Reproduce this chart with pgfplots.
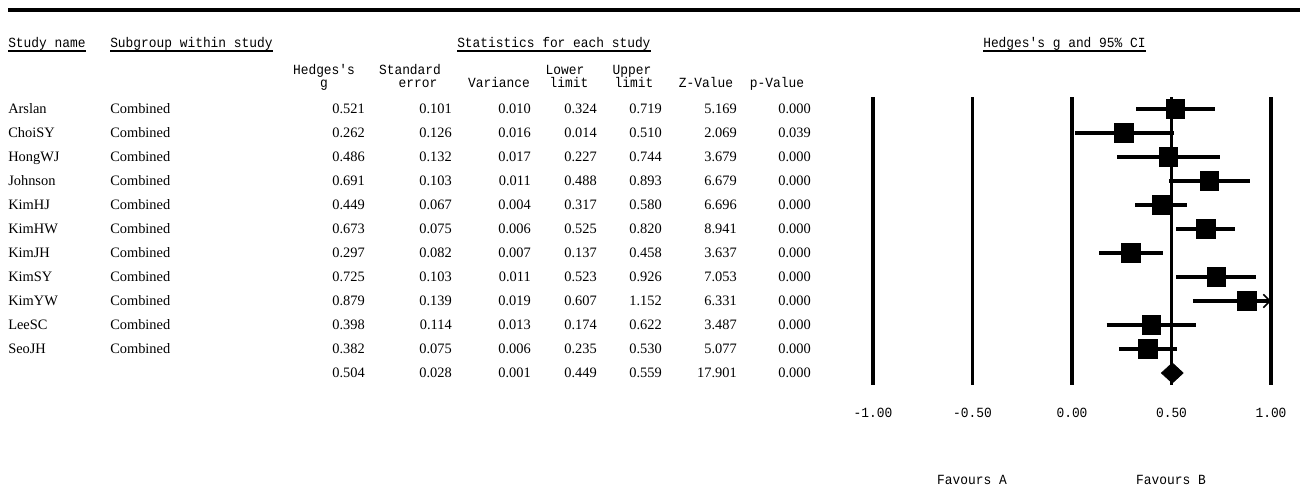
\documentclass[border=0pt]{standalone}
\usepackage{pgfplots}
\pgfplotsset{compat=1.18}
\usepackage{pgfplotstable}
\usetikzlibrary{arrows.meta}
\usepackage{fontspec}
\setmainfont{Liberation Serif}
\newfontfamily\monofam[FakeStretch=0.92]{Liberation Mono}
\newcommand{\serfont}{\fontsize{10.8}{12}\selectfont}
\newcommand{\monof}{\monofam\fontsize{10.5}{12}\selectfont}

\pgfplotstableread{
row g lo hi
1 0.521 0.324 0.719
2 0.262 0.014 0.510
3 0.486 0.227 0.744
4 0.691 0.488 0.893
5 0.449 0.317 0.580
6 0.673 0.525 0.820
7 0.297 0.137 0.458
8 0.725 0.523 0.926
9 0.879 0.607 1.152
10 0.398 0.174 0.622
11 0.382 0.235 0.530
}\studies

% whisker end points (upper limit of KimYW truncated at the axis end, 1.00)
\pgfplotstableread{
x y
0.324 1
0.719 1
nan nan
0.014 2
0.510 2
nan nan
0.227 3
0.744 3
nan nan
0.488 4
0.893 4
nan nan
0.317 5
0.580 5
nan nan
0.525 6
0.820 6
nan nan
0.137 7
0.458 7
nan nan
0.523 8
0.926 8
nan nan
0.607 9
1.000 9
nan nan
0.174 10
0.622 10
nan nan
0.235 11
0.530 11
}\whiskers

\begin{document}
\begin{tikzpicture}
\begin{scope}[x=0.75pt,y=-0.75pt]
\useasboundingbox (0,0) rectangle (1300,489);
% top rule
\draw[line width=3pt] (8,10) -- (1300,10);
% group headers
\foreach \t/\xx in {Study name/8, Subgroup within study/110, Statistics for each study/457, {Hedges's g and 95\% CI}/983}{
  \node[anchor=base west, inner sep=0pt, font=\monof] (h) at (\xx,47.5) {\t};
  \draw[line width=0.9pt] (h.west |- 0,51) -- (h.east |- 0,51);
}
% column headers
\foreach \t/\xx/\yy in {Hedges's/324/74.5, g/324/87.5, Standard/410/74.5, error/418/87.5, Variance/499/87.5, Lower/565/74.5, limit/569/87.5, Upper/632/74.5, limit/634/87.5, Z-Value/706/87.5, p-Value/777/87.5}{
  \node[anchor=base, inner sep=0pt, font=\monof] at (\xx,\yy) {\t};
}
% rows
\foreach \n/\a/\b/\c/\d/\e/\f/\g [count=\i] in {
 Arslan/0.521/0.101/0.010/0.324/0.719/5.169/0.000,
 ChoiSY/0.262/0.126/0.016/0.014/0.510/2.069/0.039,
 HongWJ/0.486/0.132/0.017/0.227/0.744/3.679/0.000,
 Johnson/0.691/0.103/0.011/0.488/0.893/6.679/0.000,
 KimHJ/0.449/0.067/0.004/0.317/0.580/6.696/0.000,
 KimHW/0.673/0.075/0.006/0.525/0.820/8.941/0.000,
 KimJH/0.297/0.082/0.007/0.137/0.458/3.637/0.000,
 KimSY/0.725/0.103/0.011/0.523/0.926/7.053/0.000,
 KimYW/0.879/0.139/0.019/0.607/1.152/6.331/0.000,
 LeeSC/0.398/0.114/0.013/0.174/0.622/3.487/0.000,
 SeoJH/0.382/0.075/0.006/0.235/0.530/5.077/0.000,
 {}/0.504/0.028/0.001/0.449/0.559/17.901/0.000}{
  \pgfmathsetmacro{\yy}{109+24*(\i-1)+4.8}
  \node[anchor=base west, inner sep=0pt, font=\serfont] at (8,\yy) {\n};
  \ifnum\i<12
  \node[anchor=base west, inner sep=0pt, font=\serfont] at (110,\yy) {Combined};
  \fi
  \node[anchor=base east, inner sep=0pt, font=\serfont] at (365,\yy) {\a};
  \node[anchor=base east, inner sep=0pt, font=\serfont] at (452,\yy) {\b};
  \node[anchor=base east, inner sep=0pt, font=\serfont] at (531,\yy) {\c};
  \node[anchor=base east, inner sep=0pt, font=\serfont] at (597,\yy) {\d};
  \node[anchor=base east, inner sep=0pt, font=\serfont] at (662,\yy) {\e};
  \node[anchor=base east, inner sep=0pt, font=\serfont] at (737,\yy) {\f};
  \node[anchor=base east, inner sep=0pt, font=\serfont] at (811,\yy) {\g};
}
\node[anchor=base, inner sep=0pt, font=\monof] at (972,484) {Favours A};
\node[anchor=base, inner sep=0pt, font=\monof] at (1171,484) {Favours B};
\end{scope}

\begin{axis}[
  at={(654.75pt,-72.75pt)}, anchor=north west,
  scale only axis, width=298.5pt, height=216pt,
  xmin=-1, xmax=1, ymin=0.5, ymax=12.5, y dir=reverse,
  clip=false,
  axis line style={draw=none}, tick style={draw=none},
  xtick={-1,-0.5,0,0.5,1},
  xticklabels={-1.00,-0.50,0.00,0.50,1.00},
  xticklabel style={font=\monof, anchor=center, yshift=-21pt, inner sep=0pt},
  ytick=\empty,
]
\addplot[line width=2.5pt] coordinates {(-1,0.5) (-1,12.5)};
\addplot[line width=2.5pt] coordinates {(-0.5,0.5) (-0.5,12.5)};
\addplot[line width=2.5pt] coordinates {(0,0.5) (0,12.5)};
\addplot[line width=2.5pt] coordinates {(0.5,0.5) (0.5,12.5)};
\addplot[line width=2.5pt] coordinates {(1,0.5) (1,12.5)};
% whiskers
\addplot[line width=2.3pt, black, mark=none, unbounded coords=jump] table[x=x, y=y] {\whiskers};
% squares
\addplot[only marks, mark=square*, mark size=6.9pt, mark options={fill=black, draw=black, line width=0pt}]
  table[x=g, y=row] {\studies};
% truncation arrow
\addplot[line width=1.1pt, -{Straight Barb[length=5pt, width=10pt]}] coordinates {(0.95,9) (1.0,9)};
% summary diamond
\addplot[fill=black, draw=black, line width=0.5pt] coordinates {(0.449,12) (0.504,11.58) (0.559,12) (0.504,12.42)} -- cycle;
\end{axis}
\end{tikzpicture}
\end{document}
